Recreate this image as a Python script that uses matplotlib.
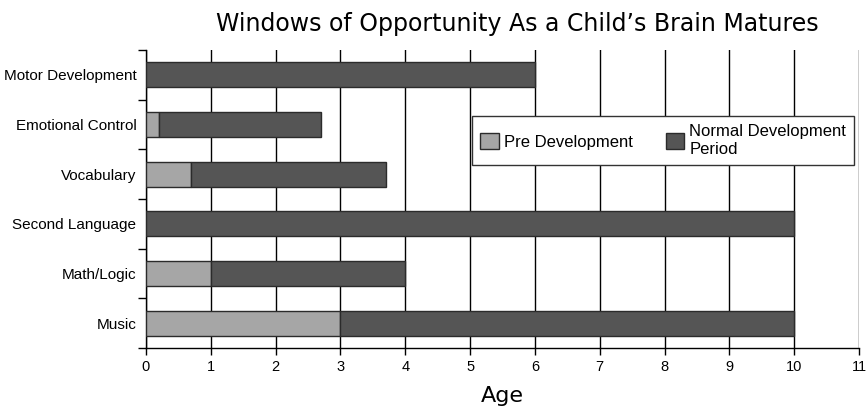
import matplotlib.pyplot as plt
import numpy as np

# values (years)
skills = ['Music', 'Math/Logic', 'Second Language', 'Vocabulary',
          'Emotional Control', 'Motor Development']
pre_dev = [3, 1, 0, 0.7, 0.2, 0]
end_age = [10, 4, 10, 3.7, 2.7, 6]
normal_dev = [e - p for e, p in zip(end_age, pre_dev)]
xticks = list(range(0, 12))

light = '#a6a6a6'
dark = '#555555'
edge = '#2b2b2b'

fig = plt.figure(figsize=(8.67, 4.13), dpi=100)
ax = fig.add_axes([146/867, 1 - 348/413, (859 - 146)/867, 298/413])

y = np.arange(len(skills))
ax.barh(y, pre_dev, height=0.5, color=light, edgecolor=edge, linewidth=1,
        label='Pre Development', zorder=3)
ax.barh(y, normal_dev, left=pre_dev, height=0.5, color=dark, edgecolor=edge,
        linewidth=1, label='Normal Development\nPeriod', zorder=3)

ax.set_xlim(0, 11)
ax.set_ylim(-0.5, len(skills) - 0.5)
ax.set_xticks(xticks)
ax.xaxis.grid(True, color='black', linewidth=1)
ax.set_axisbelow(True)

ax.set_yticks(y)
ax.set_yticklabels(skills, fontfamily='Liberation Sans', fontsize=11)
ax.set_yticks(np.arange(-0.5, len(skills)), minor=True)
ax.tick_params(axis='y', which='major', length=0, pad=7)
ax.tick_params(axis='y', which='minor', length=6, width=1, color='black')
ax.tick_params(axis='x', length=5, width=1, color='black', labelsize=10.5)
for lab in ax.get_xticklabels():
    lab.set_fontfamily('Liberation Sans')

for s in ['top', 'right']:
    ax.spines[s].set_visible(False)
for s in ['left', 'bottom']:
    ax.spines[s].set_linewidth(1)
    ax.spines[s].set_color('black')

ax.set_xlabel('Age', fontsize=16, fontfamily='DejaVu Sans', labelpad=9)
fig.text(517/867, 1 - 31/413, 'Windows of Opportunity As a Child\u2019s Brain Matures',
         ha='center', va='baseline', fontsize=17, fontfamily='DejaVu Sans')

leg = ax.legend(loc='upper left', bbox_to_anchor=(472/867, 1 - 116/413),
                bbox_transform=fig.transFigure, ncol=2, frameon=True,
                fancybox=False, edgecolor='#333333', framealpha=1,
                prop={'family': 'Liberation Sans', 'size': 12},
                handlelength=1.1, handleheight=1.1, handletextpad=0.3,
                columnspacing=2.0, borderpad=0.5, borderaxespad=0)
leg.get_frame().set_linewidth(1)

fig.savefig('out.png', dpi=100)
